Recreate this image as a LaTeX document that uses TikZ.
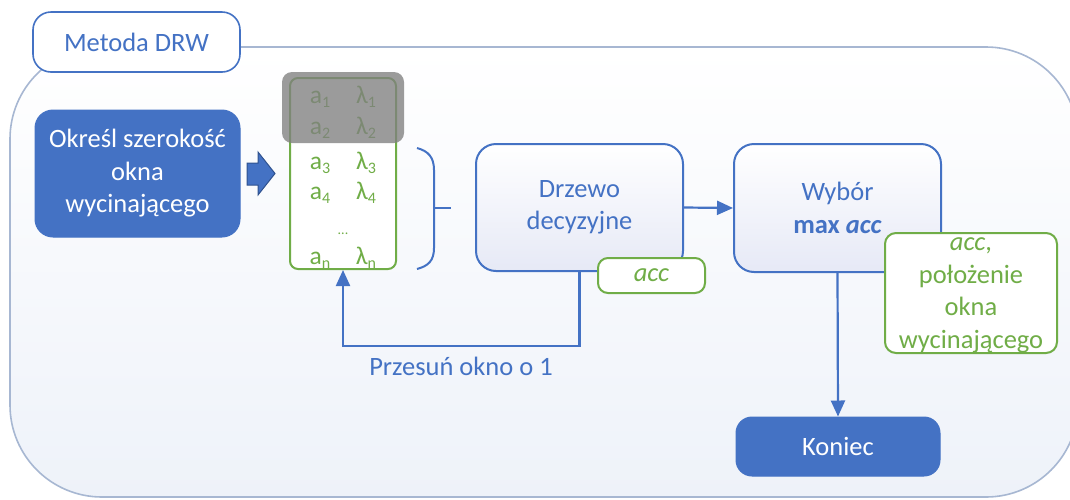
\documentclass[tikz,border=0pt]{standalone}
\usepackage{fontspec}
\setmainfont{Carlito}
\usetikzlibrary{arrows.meta}
\definecolor{mainblue}{HTML}{4472C4}
\definecolor{darkblue}{HTML}{2F528F}
\definecolor{leafgreen}{HTML}{70AD47}
\definecolor{frameline}{HTML}{A7B7D2}
\definecolor{framefill}{HTML}{EEF2F9}
\definecolor{boxtint}{HTML}{E6E9F6}
\newcommand\idx[1]{\raisebox{-0.35ex}{\fontsize{16}{16}\selectfont #1}}
\tikzset{
  txt/.style={font=\fontsize{26.5}{32.5}\selectfont, align=center},
  solidbox/.style={txt, draw=mainblue, fill=mainblue, text=white, line width=1pt,
    rounded corners=18pt, inner sep=0pt},
  % the y axis points down here, so the tint goes in the "bottom" colour
  outlinebox/.style={txt, draw=mainblue, line width=2pt, text=mainblue,
    rounded corners=20pt, inner sep=0pt, top color=white, bottom color=boxtint},
  greenbox/.style={txt, draw=leafgreen, fill=white, line width=2pt, text=leafgreen,
    rounded corners=11pt, inner sep=0pt},
  flow/.style={draw=mainblue, line width=2.2pt, -{Triangle[length=16pt,width=14pt]}},
  listtxt/.style={font=\fontsize{25.5}{30}\selectfont, text=leafgreen, anchor=base, inner sep=0pt},
}
\begin{document}
\begin{tikzpicture}[x=1pt,y=-1pt]
\useasboundingbox (0,0) rectangle (1070,499);
\fill[white] (0,0) rectangle (1070,499);

% group frame
\shade[top color=white, bottom color=framefill, draw=frameline, line width=1.6pt, rounded corners=92pt]
  (10,47) rectangle (1078,497);
\node[txt, draw=mainblue, fill=white, line width=1.6pt, rounded corners=18pt, text=mainblue,
  minimum width=207pt, minimum height=60pt, inner sep=0pt] (tab) at (136.5,42) {Metoda DRW};

% first step
\node[solidbox, minimum width=205pt, minimum height=127pt] (start) at (137.5,173.5)
  {Określ szerokość\\okna\\wycinającego};

% block arrow
\draw[fill=mainblue, draw=darkblue, line width=1pt]
  (247,163) -- (258,163) -- (258,152) -- (275,173.5) -- (258,195) -- (258,185) -- (247,185) -- cycle;

% sliding window list
\node[draw=leafgreen, fill=white, line width=2pt, rounded corners=8pt,
  minimum width=106pt, minimum height=191pt, inner sep=0pt] (list) at (343,173.5) {};
\foreach \r/\y in {1/103,2/134,3/169,4/199} {
  \node[listtxt] (a\r) at (320,\y) {a\idx{\r}};
  \node[listtxt] (l\r) at (366,\y) {λ\idx{\r}};
}
\node[listtxt, font=\fontsize{14}{14}\selectfont] (dots) at (343,234) {...};
\node[listtxt] (an) at (320,264) {a\idx{n}};
\node[listtxt] (ln) at (366,264) {λ\idx{n}};
\fill[black!50, opacity=0.78, rounded corners=10pt] (282,72) rectangle (404,143);

% brace
\coordinate (bt) at (417,148);
\coordinate (bb) at (417,269);
\coordinate (bm) at (451,208);
\draw[mainblue, line width=2pt]
  (bt) .. controls (428,151) and (434,157) .. (434,170) -- (434,248)
  .. controls (434,261) and (428,266) .. (bb);
\draw[mainblue, line width=2pt] (434,208) -- (bm);

% decision tree and selection
\node[outlinebox, minimum width=207pt, minimum height=127pt] (tree) at (579.5,207.5)
  {Drzewo\\decyzyjne};
\node[greenbox, minimum width=107pt, minimum height=35pt, rounded corners=10pt] (acc) at (651.5,275.5)
  {\textit{acc}};
\node[outlinebox, minimum width=207pt, minimum height=128pt] (choose) at (837.5,208)
  {Wybór\\\textbf{max \textit{acc}}};
\node[greenbox, minimum width=172pt, minimum height=120pt, text depth=0pt] (result) at (971,293)
  {\textit{acc},\\położenie\\okna\\wycinającego};

% end
\node[solidbox, minimum width=204pt, minimum height=59pt, rounded corners=16pt] (koniec) at (838,446.5)
  {Koniec};

% connectors
\draw[flow] (tree.east) -- (choose.west);
\draw[flow] (choose.south) -- (koniec.north);
\draw[flow] (tree.south) -- ++(0,74) -| (list.south);
\node[txt, text=mainblue, anchor=base] (shift) at (461,375) {Przesuń okno o 1};
\end{tikzpicture}
\end{document}
